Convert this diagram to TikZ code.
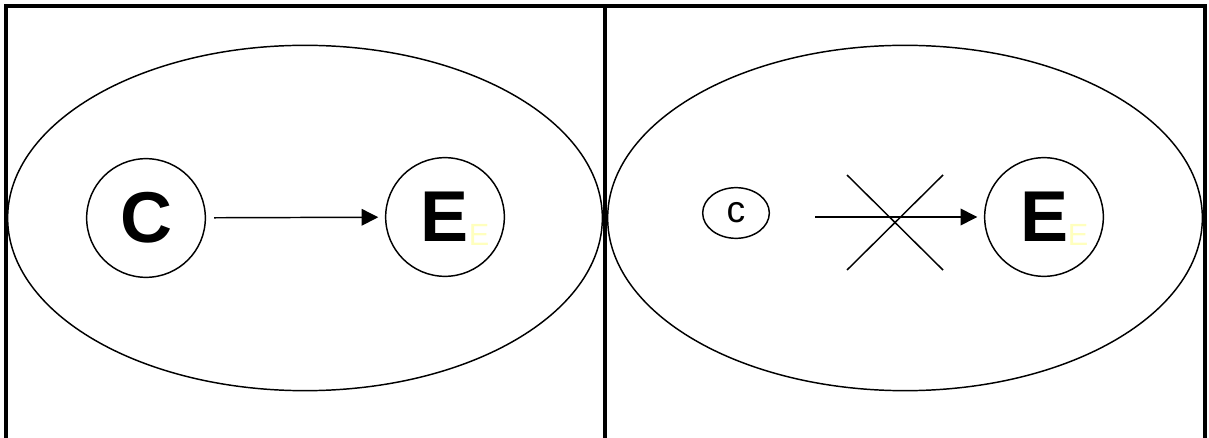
\documentclass[tikz,border=0pt]{standalone}
\usepackage{fontspec}
\setmainfont{Liberation Sans}
\usetikzlibrary{arrows.meta,shapes.geometric,calc}
\definecolor{paleyellow}{RGB}{255,255,190}

\begin{document}
\begin{tikzpicture}[
  x=0.75pt, y=-0.75pt,
  frame/.style = {line width=2.4pt},
  world/.style = {draw, ellipse, line width=1.1pt, minimum width=446pt,
                  minimum height=259pt, inner sep=0pt},
  event/.style = {draw, circle, line width=1.1pt, minimum size=89pt,
                  inner sep=0pt, font=\fontsize{54}{54}\selectfont\bfseries},
  small/.style = {draw, ellipse, line width=1.1pt, minimum width=50pt,
                  minimum height=38pt, inner sep=0pt, font=\fontsize{28}{28}\selectfont},
  tag/.style = {text=paleyellow, inner sep=0pt, font=\fontsize{23}{23}\selectfont},
  arr/.style = {-{Triangle[length=12.5pt,width=12.5pt]}, line width=1.1pt},
]
\useasboundingbox (0,0) rectangle (1209,438);

% Frame
\draw[frame] (6,440) -- (6,6) -- (1205,6) -- (1205,440);
\draw[frame] (605,6) -- (605,440);

% Left panel
\node[world] (worldL) at (305,218) {};
\node[event] (causeL) at (146,218) {C};
\node[event] (effL) at (445,217) {E};
\node[tag] (tagL) at (479,235) {E};
\draw[arr, shorten <=6pt, shorten >=5pt] (causeL) -- (effL);

% Right panel
\node[world] (worldR) at (905,218) {};
\node[small] (causeR) at (736,213) {c};
\node[event] (effR) at (1044,217) {E};
\node[tag] (tagR) at (1078,235) {E};
\coordinate (cross) at (895,222);
\draw[arr, shorten <=34pt, shorten >=5pt] (causeR.east |- effR) -- (effR);
\draw[line width=1.1pt] ($(cross)+(-48,-47)$) -- ($(cross)+(48,48)$);
\draw[line width=1.1pt] ($(cross)+(48,-47)$) -- ($(cross)+(-48,48)$);
\end{tikzpicture}
\end{document}
